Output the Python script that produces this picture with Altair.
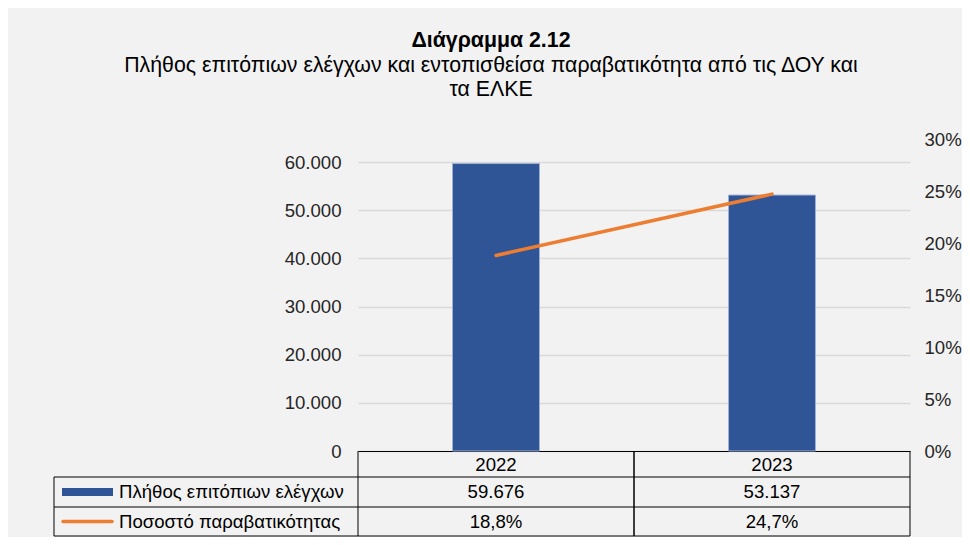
import altair as alt
import pandas as pd

# ---- data ----
years = ["2022", "2023"]
checks = [59676, 53137]
rates = [0.188, 0.247]
series = ["Πλήθος επιτόπιων ελέγχων", "Ποσοστό παραβατικότητας"]
left_ticks = [0, 10000, 20000, 30000, 40000, 50000, 60000]
right_ticks = [0, 0.05, 0.10, 0.15, 0.20, 0.25, 0.30]
title_text = "Διάγραμμα 2.12"
subtitle_lines = [
    "Πλήθος επιτόπιων ελέγχων και εντοπισθείσα παραβατικότητα από τις ΔΟΥ και",
    "τα ΕΛΚΕ",
]

df = pd.DataFrame({"year": years, "checks": checks, "rate": rates})
df["checks_txt"] = [f"{v:,}".replace(",", ".") for v in checks]
df["rate_txt"] = [f"{r * 100:.1f}%".replace(".", ",") for r in rates]
legend_df = pd.DataFrame({"series": series})

# ---- layout constants ----
W, H = 552, 312
FONT = "Liberation Sans"
FS = 18.6
TFS = 21.3
BLUE = "#2F5597"
ORANGE = "#ED7D31"
TXT = "#262626"
ROW1_TOP, ROW1_BOT, ROW2_BOT, ROW3_BOT = H, H + 26, H + 56, H + 85
TABLE_LEFT = -304

base = alt.Chart(df)

x_main = alt.X(
    "year:N",
    sort=years,
    scale=alt.Scale(paddingInner=0, paddingOuter=0),
    axis=alt.Axis(
        title=None, orient="bottom", domain=True, domainColor="black",
        domainWidth=1, ticks=False, labelPadding=13, labelBaseline="middle",
        labelFontSize=FS, labelFont=FONT, labelColor="black", labelAngle=0,
        grid=False,
    ),
)

bars = base.mark_bar(size=87, color=BLUE, stroke="#9fb1d3", strokeWidth=1).encode(
    x=x_main,
    y=alt.Y(
        "checks:Q",
        scale=alt.Scale(domain=[0, 60000 * 312 / 289], nice=False, zero=True),
        axis=alt.Axis(
            title=None, orient="left", values=left_ticks,
            labelExpr="replace(format(datum.value, ','), ',', '.')",
            domain=False, ticks=False, grid=True, gridColor="#d9d9d9",
            gridWidth=1.5, labelPadding=17, labelFontSize=FS, labelFont=FONT,
            labelColor=TXT,
        ),
    ),
)

line = base.mark_line(color=ORANGE, strokeWidth=3.5, strokeCap="round").encode(
    x=alt.X("year:N", sort=years),
    y=alt.Y(
        "rate:Q",
        scale=alt.Scale(domain=[0, 0.30], nice=False, zero=True),
        axis=alt.Axis(
            title=None, orient="right", values=right_ticks, format=".0%",
            domain=False, ticks=False, grid=False, labelPadding=14,
            labelFontSize=FS, labelFont=FONT, labelColor=TXT,
        ),
    ),
)

# ---- data table under the plot ----
vlines_start = base.mark_rule(color="black", strokeWidth=1).encode(
    x=alt.X("year:N", sort=years, bandPosition=0),
    y=alt.value(ROW1_TOP), y2=alt.value(ROW3_BOT),
)
vlines_end = base.mark_rule(color="black", strokeWidth=1).encode(
    x=alt.X("year:N", sort=years, bandPosition=1),
    y=alt.value(ROW1_TOP), y2=alt.value(ROW3_BOT),
)

one = alt.Chart(legend_df.head(1))


def hrule(yv):
    return one.mark_rule(color="black", strokeWidth=1).encode(
        x=alt.value(TABLE_LEFT), x2=alt.value(W), y=alt.value(yv)
    )


left_edge = one.mark_rule(color="black", strokeWidth=1).encode(
    x=alt.value(TABLE_LEFT), y=alt.value(ROW1_BOT), y2=alt.value(ROW3_BOT)
)

row2_y = (ROW1_BOT + ROW2_BOT) / 2
row3_y = (ROW2_BOT + ROW3_BOT) / 2

checks_text = base.mark_text(fontSize=FS, font=FONT, color="black", baseline="middle").encode(
    x=alt.X("year:N", sort=years), y=alt.value(row2_y), text="checks_txt:N"
)
rates_text = base.mark_text(fontSize=FS, font=FONT, color="black", baseline="middle").encode(
    x=alt.X("year:N", sort=years), y=alt.value(row3_y), text="rate_txt:N"
)

swatch_bar = one.mark_rect(color=BLUE).encode(
    x=alt.value(TABLE_LEFT + 8), x2=alt.value(TABLE_LEFT + 59),
    y=alt.value(row2_y - 4), y2=alt.value(row2_y + 4),
)
swatch_line = one.mark_rule(color=ORANGE, strokeWidth=3.5, strokeCap="round").encode(
    x=alt.value(TABLE_LEFT + 9), x2=alt.value(TABLE_LEFT + 58), y=alt.value(row3_y)
)

leg_txt1 = alt.Chart(legend_df).transform_filter(alt.datum.series == series[0]).mark_text(
    fontSize=FS, font=FONT, color="black", align="left", baseline="middle"
).encode(x=alt.value(TABLE_LEFT + 65), y=alt.value(row2_y), text="series:N")
leg_txt2 = alt.Chart(legend_df).transform_filter(alt.datum.series == series[1]).mark_text(
    fontSize=FS, font=FONT, color="black", align="left", baseline="middle"
).encode(x=alt.value(TABLE_LEFT + 65), y=alt.value(row3_y), text="series:N")

chart = alt.layer(
    bars, line,
    vlines_start, vlines_end,
    hrule(ROW1_BOT), hrule(ROW2_BOT), hrule(ROW3_BOT), left_edge,
    checks_text, rates_text, swatch_bar, swatch_line, leg_txt1, leg_txt2,
).resolve_scale(y="independent").properties(
    width=W,
    height=H,
    autosize=alt.AutoSizeParams(type="none"),
    padding={"left": 350, "top": 131, "right": 52, "bottom": 86},
    background="#f2f2f2",
    title=alt.TitleParams(
        text=title_text,
        subtitle=subtitle_lines,
        anchor="middle",
        dx=-143,
        offset=30,
        font=FONT,
        fontSize=TFS,
        fontWeight="bold",
        color="black",
        subtitleFont=FONT,
        subtitleFontSize=TFS,
        subtitleColor="black",
        subtitleLineHeight=24,
        subtitlePadding=3,
    ),
).configure_view(stroke=None)

chart.save("out.html", embed_options={"renderer": "svg", "actions": False})
